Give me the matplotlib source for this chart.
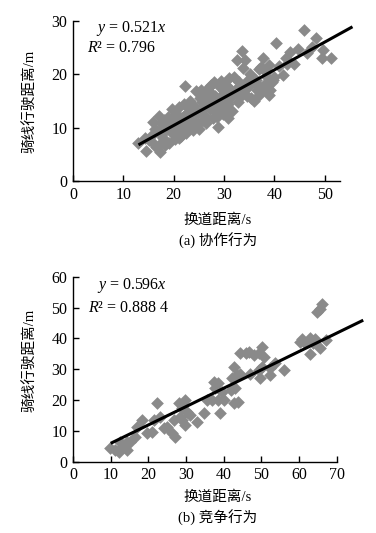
import matplotlib
matplotlib.use("Agg")
from matplotlib import pyplot as plt
import numpy as np

plt.rcParams['font.family'] = ['Liberation Serif', 'Noto Sans CJK SC']
plt.rcParams['mathtext.fontset'] = 'custom'
plt.rcParams['mathtext.rm'] = 'Liberation Serif'
plt.rcParams['mathtext.it'] = 'Liberation Serif:italic'

# (a) cooperative behaviour
xa = [13.0, 14.5, 14.3, 15.0, 15.8, 15.5, 16.2, 16.0,
      16.8, 17.0, 17.3, 17.5, 17.8, 18.2, 18.5, 18.0, 18.8, 19.0, 19.3, 19.6, 19.8, 16.5, 17.6, 18.4,
      20.0, 20.2, 20.5, 20.8, 21.0, 21.2, 21.5, 21.8, 22.0, 22.3, 22.2, 22.5, 22.8, 23.0, 23.2, 23.5,
      23.8, 20.6, 21.4, 22.6, 23.4, 21.0, 22.0, 23.0,
      24.0, 24.2, 24.5, 24.8, 25.0, 25.2, 25.5, 25.8, 26.0, 26.2, 26.5, 26.8, 27.0, 27.2, 27.5, 27.8,
      24.4, 25.6, 26.4, 27.4, 24.6, 25.4, 26.6, 27.6,
      28.0, 28.2, 28.5, 28.8, 29.0, 29.2, 29.5, 29.8, 30.0, 30.3, 30.5, 30.7, 31.0, 31.2, 31.5, 28.4,
      29.6, 30.8, 28.6, 29.4, 30.2, 31.4,
      32.0, 32.3, 32.5, 32.8, 33.0, 33.2, 33.5, 33.8, 34.0, 34.2, 34.5, 34.8, 35.0, 35.3, 35.5, 32.6,
      33.6, 34.6, 35.2,
      36.0, 36.3, 36.5, 36.8, 37.0, 37.4, 37.8, 38.0, 38.3, 38.6, 38.9, 39.2, 39.5, 39.8, 40.0, 36.6,
      37.6, 38.4, 39.0,
      40.3, 41.8, 42.2, 43.0, 43.9, 44.7, 45.8, 47.4, 48.2, 49.7, 49.5, 51.3, 42.5, 46.5, 41.0]
ya = [7.2, 5.6, 8.0, 7.6, 11.0, 8.5, 9.8, 7.0,
      9.2, 12.2, 5.4, 10.8, 8.0, 6.8, 9.5, 11.5, 12.0, 7.2, 10.2, 13.5, 8.8, 6.3, 7.3, 10.5,
      11.0, 7.8, 12.5, 9.5, 13.8, 10.5, 8.5, 12.0, 14.5, 17.8, 11.2, 9.0, 13.0, 10.2, 15.0, 12.5,
      9.5, 10.2, 11.8, 14.0, 11.0, 8.0, 10.0, 13.8,
      14.0, 11.0, 16.8, 12.8, 9.8, 15.5, 13.2, 11.5, 16.0, 14.2, 12.0, 17.5, 15.0, 13.5, 18.0, 11.8,
      13.0, 14.8, 10.8, 16.5, 10.5, 17.0, 15.8, 14.0,
      18.5, 16.0, 13.0, 10.2, 17.8, 15.0, 14.0, 12.5, 16.8, 18.0, 13.8, 11.8, 19.3, 15.5, 13.2, 14.8,
      16.2, 14.5, 12.0, 18.8, 15.0, 17.0,
      19.5, 16.5, 22.7, 14.8, 18.5, 15.8, 24.3, 21.1, 17.0, 22.7, 16.0, 19.0, 17.8, 15.5, 18.8, 17.5,
      16.8, 18.0, 20.0,
      15.0, 19.0, 17.0, 16.0, 21.0, 21.4, 23.0, 18.0, 17.5, 19.5, 21.8, 17.0, 18.5, 19.0, 19.5, 18.2,
      16.8, 20.5, 16.2,
      25.9, 19.9, 23.0, 24.1, 21.9, 24.7, 28.4, 25.1, 26.9, 24.6, 23.0, 23.0, 22.0, 24.0, 21.5]
slope_a = 0.521
fit_xa = [13, 55.5]

# (b) competitive behaviour
xb = [65.6, 66.0, 64.8,
      60.7, 63.0, 64.3, 65.6, 63.0, 61.6, 67.0, 63.8, 60.3,
      55.9, 53.7, 52.2, 49.7, 50.1, 50.6, 50.1, 49.3, 47.9, 46.6, 46.0, 44.4, 47.0, 49.3, 52.3,
      42.6, 43.5, 44.4, 42.2, 43.1, 41.9, 42.6, 43.9, 39.5, 39.1, 40.0, 37.3, 38.5, 37.7, 36.9, 38.5, 35.5,
      34.7, 32.9, 29.8, 29.8, 28.5, 28.0, 28.9, 26.7, 27.1, 26.3, 30.2, 31.1, 28.9,
      22.3, 24.1, 25.0, 23.2, 21.4, 21.0, 19.6, 18.3, 17.0, 16.5, 15.2, 14.3, 13.0, 11.2, 9.9, 12.1,
      14.3, 12.6]
yb = [49.4, 51.0, 48.6,
      39.8, 40.0, 39.7, 36.8, 34.8, 38.4, 39.5, 38.4, 38.9,
      29.7, 32.1, 30.3, 27.0, 30.8, 34.0, 37.3, 35.4, 34.6, 35.7, 35.1, 35.1, 28.6, 29.7, 28.1,
      30.8, 28.1, 28.6, 27.0, 24.0, 23.2, 18.9, 19.5, 22.7, 15.9, 20.0, 25.9, 25.4, 23.8, 20.0, 20.0, 20.0,
      15.7, 13.0, 20.0, 11.9, 14.6, 18.9, 17.3, 13.5, 8.1, 9.2, 16.2, 15.1, 13.5,
      18.9, 10.8, 11.4, 14.6, 13.5, 9.7, 9.2, 13.5, 11.4, 8.1, 6.5, 6.5, 4.9, 3.8, 4.3, 3.2,
      3.8, 6.5]
slope_b = 0.596
fit_xb = [10, 77]

W, H = 376, 533
fig = plt.figure(figsize=(W / 100, H / 100), dpi=100)

def fx(px):
    return px / W

def fy(py):
    return 1 - py / H

def panel(rect, x, y, slope, fit_x, xlim, xmax_axis, ylim, xticks, yticks, eq, r2):
    ax = fig.add_axes(rect)
    ax.scatter(x, y, marker='D', s=42, color='#8a8a8a', linewidths=0, zorder=2)
    fx_ = np.array(fit_x)
    ax.plot(fx_, slope * fx_, color='black', lw=2.2, zorder=3, clip_on=False,
            solid_capstyle='butt')
    ax.set_xlim(*xlim)
    ax.set_ylim(*ylim)
    ax.set_xticks(xticks)
    ax.set_yticks(yticks)
    for s in ['top', 'right']:
        ax.spines[s].set_visible(False)
    ax.spines['bottom'].set_bounds(0, xmax_axis)
    ax.spines['left'].set_bounds(ylim[0], ylim[1])
    for s in ['bottom', 'left']:
        ax.spines[s].set_linewidth(1.0)
    ax.tick_params(direction='in', length=4, width=1.0, labelsize=11.5, pad=4)
    ax.text(0.08, 0.95, eq, transform=ax.transAxes, fontsize=11.5, va='center')
    ax.text(0.05, 0.83, r2, transform=ax.transAxes, fontsize=11.5, va='center')
    return ax

panel([fx(73), fy(181), fx(355) - fx(73), fy(21) - fy(181)],
      xa, ya, slope_a, fit_xa, (0, 56), 53, (0, 30),
      [0, 10, 20, 30, 40, 50], [0, 10, 20, 30],
      '$y$ = 0.521$x$', '$R$² = 0.796')
panel([fx(73), fy(461.7), fx(367) - fx(73), fy(276.7) - fy(461.7)],
      xb, yb, slope_b, fit_xb, (0, 78), 70, (0, 60),
      [0, 10, 20, 30, 40, 50, 60, 70], [0, 10, 20, 30, 40, 50, 60],
      '$y$ = 0.596$x$', '$R$² = 0.888 4')

fig.text(fx(29), fy(101), '骑线行驶距离/m', rotation=90, ha='center', va='center', fontsize=10.5)
fig.text(fx(218), fy(220), '换道距离/s', ha='center', va='center', fontsize=10.5)
fig.text(fx(218), fy(241), '(a) 协作行为', ha='center', va='center', fontsize=10.5)
fig.text(fx(29), fy(360), '骑线行驶距离/m', rotation=90, ha='center', va='center', fontsize=10.5)
fig.text(fx(218), fy(497), '换道距离/s', ha='center', va='center', fontsize=10.5)
fig.text(fx(218), fy(518), '(b) 竞争行为', ha='center', va='center', fontsize=10.5)

fig.savefig('out.png', dpi=100)
